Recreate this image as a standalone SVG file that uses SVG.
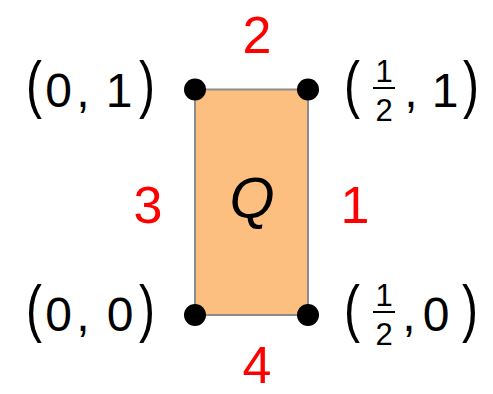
<svg xmlns="http://www.w3.org/2000/svg" width="493" height="394" viewBox="0 0 493 394">
<style>
text{font-family:"Liberation Sans","DejaVu Sans",sans-serif;fill:#000;text-anchor:middle}
.t{font-size:48px}
.s{font-size:31px}
.r{font-size:52px;fill:#ff0000}
.d{fill:#000}
.bar{stroke:#000;stroke-width:2}
</style>
<rect width="493" height="394" fill="#fff"/>
<g id="Q">
<rect x="195" y="89.5" width="113" height="225.5" fill="#fdbf80" stroke="#8c8c8c" stroke-width="2"/>
<text x="252" y="218" style="font-size:58px;font-style:italic">Q</text>
</g>
<g id="p01"><circle class="d" cx="195" cy="89.5" r="11"/>
<text class="t" transform="translate(34,106) scale(1,1.3)">(</text><text class="t" x="58.5" y="107">0</text><text class="t" x="83" y="107">,</text><text class="t" x="119" y="107">1</text><text class="t" transform="translate(147,106) scale(1,1.3)">)</text></g>
<g id="p00"><circle class="d" cx="195" cy="315" r="11"/>
<text class="t" transform="translate(34,330) scale(1,1.3)">(</text><text class="t" x="58.5" y="331">0</text><text class="t" x="83" y="331">,</text><text class="t" x="120" y="331">0</text><text class="t" transform="translate(147,330) scale(1,1.3)">)</text></g>
<g id="p11"><circle class="d" cx="308" cy="89.5" r="11"/>
<text class="t" transform="translate(352,106) scale(1,1.3)">(</text><text class="s" x="384" y="82">1</text><line class="bar" x1="373" y1="88" x2="395" y2="88"/><text class="s" x="384" y="121">2</text><text class="t" x="411" y="107">,</text><text class="t" x="445" y="107">1</text><text class="t" transform="translate(471,106) scale(1,1.3)">)</text></g>
<g id="p10"><circle class="d" cx="308" cy="315" r="11"/>
<text class="t" transform="translate(352,330) scale(1,1.3)">(</text><text class="s" x="384" y="306">1</text><line class="bar" x1="373" y1="312" x2="395" y2="312"/><text class="s" x="384" y="345">2</text><text class="t" x="409" y="331">,</text><text class="t" x="436" y="331">0</text><text class="t" transform="translate(470,330) scale(1,1.3)">)</text></g>
<g id="edges">
<text class="r" x="257" y="53">2</text>
<text class="r" x="148" y="223">3</text>
<text class="r" x="355" y="223">1</text>
<text class="r" x="257" y="383">4</text>
</g>
</svg>
